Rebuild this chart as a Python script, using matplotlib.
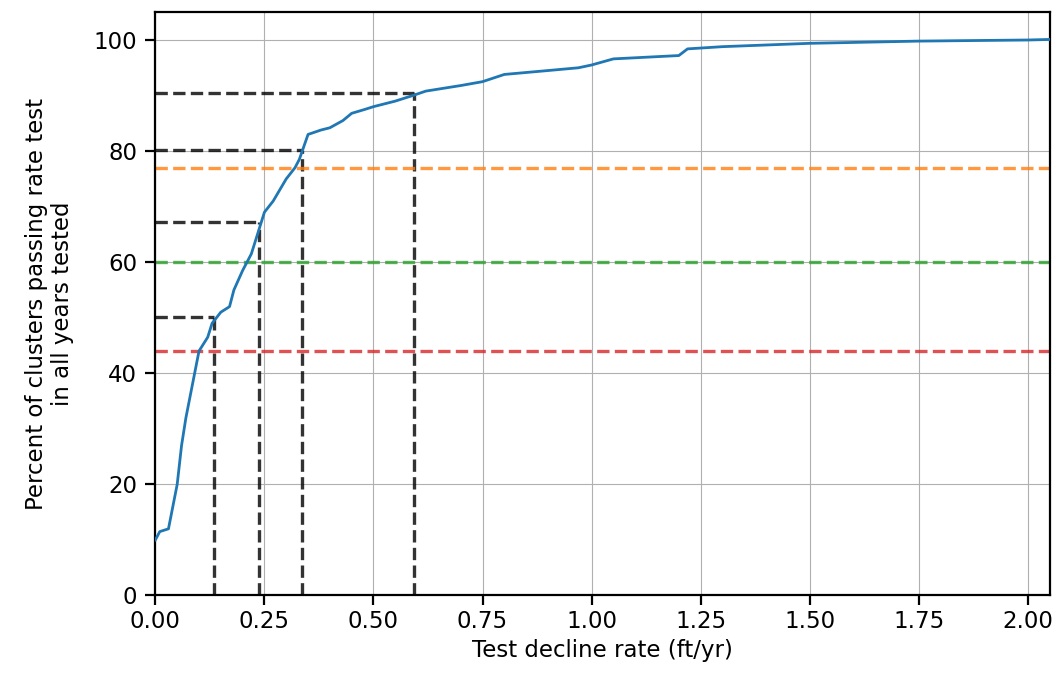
import numpy as np
import matplotlib.pyplot as plt

rate = [0.0, 0.01, 0.03, 0.04, 0.05, 0.06, 0.07, 0.08, 0.09, 0.1, 0.12, 0.13, 0.15, 0.17, 0.18, 0.2, 0.22,
        0.23, 0.25, 0.27, 0.3, 0.32, 0.33, 0.35, 0.38, 0.4, 0.43, 0.45, 0.48, 0.5, 0.55, 0.59, 0.62,
        0.7, 0.75, 0.8, 0.9, 0.97, 1.0, 1.05, 1.2, 1.22, 1.3, 1.5, 1.75, 2.0, 2.05]
pct = [10.0, 11.5, 12.0, 16.0, 20.0, 27.0, 32.0, 36.0, 40.0, 44.0, 46.5, 49.0, 51.0, 52.0, 55.0, 58.5, 61.5,
       64.0, 69.0, 71.0, 75.0, 77.0, 78.5, 83.0, 83.8, 84.2, 85.5, 86.8, 87.5, 88.0, 89.0, 90.0, 90.8,
       91.8, 92.5, 93.8, 94.5, 95.0, 95.5, 96.6, 97.2, 98.4, 98.8, 99.4, 99.8, 100.0, 100.1]

mark_x = [0.135, 0.238, 0.335, 0.593]
mark_y = [50.2, 67.3, 80.2, 90.5]

thresholds = [77, 60, 44]
thr_colors = ['tab:orange', 'tab:green', 'tab:red']

plt.rcParams['font.size'] = 16.5
plt.rcParams['axes.linewidth'] = 1.6
plt.rcParams['xtick.major.width'] = 1.6
plt.rcParams['ytick.major.width'] = 1.6
plt.rcParams['xtick.major.size'] = 7
plt.rcParams['ytick.major.size'] = 7
plt.rcParams['ytick.major.pad'] = 6
fig, ax = plt.subplots(figsize=(10.57, 6.79), dpi=100)
ax.plot(rate, pct, color='tab:blue', lw=2, zorder=3)
for xv, yv in zip(mark_x, mark_y):
    ax.plot([0, xv], [yv, yv], 'k--', lw=2.4, alpha=0.8)
    ax.plot([xv, xv], [0, yv], 'k--', lw=2.4, alpha=0.8)
for t, c in zip(thresholds, thr_colors):
    ax.axhline(t, color=c, ls='--', lw=2.4, alpha=0.8)
ax.set_xlim(0, 2.05)
ax.set_ylim(0, 105)
ax.grid(True)
ax.set_xlabel('Test decline rate (ft/yr)')
ax.set_ylabel('Percent of clusters passing rate test\nin all years tested', labelpad=14)
fig.subplots_adjust(left=0.147, right=0.993, top=0.982, bottom=0.123)
fig.savefig('out.png')
